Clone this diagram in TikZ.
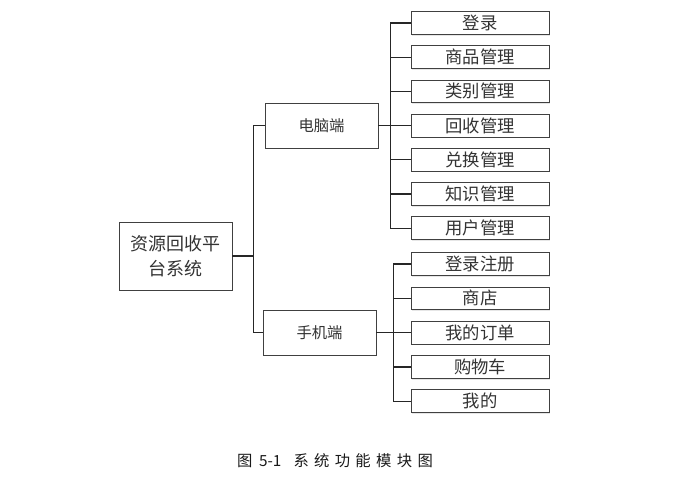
\documentclass[tikz,border=0pt]{standalone}
\usepackage{fontspec}
\setmainfont{Noto Sans CJK SC}
\usetikzlibrary{shadows}

\tikzset{
  box/.style={draw=black!75, fill=white, line width=0.65pt, inner sep=0pt,
    text=black!80, drop shadow={opacity=0.2, shadow xshift=1pt, shadow yshift=-1pt}},
  rootbox/.style={box, minimum width=84.75pt, minimum height=51pt, align=center,
    font=\fontsize{13.5}{19}\selectfont},
  midbox/.style={box, minimum width=84.75pt, minimum height=33.75pt,
    font=\fontsize{11.5}{13}\selectfont},
  leafbox/.style={box, minimum width=103.5pt, minimum height=17pt,
    font=\fontsize{13}{14}\selectfont},
  link/.style={line width=0.9pt, black!85},
}

\begin{document}
\begin{tikzpicture}[x=0.75pt,y=-0.75pt]
\useasboundingbox (0,0) rectangle (698,487);
%\draw[step=10,gray,very thin] (0,0) grid (698,487);

% root and the two clients
\node[rootbox] (root) at (175.5,256) {资源回收平\\台系统};
\node[midbox] (pc) at (321.5,125.5) {电脑端};
\node[midbox] (mob) at (319.5,332.5) {手机端};

% pc items
\foreach \name/\txt [count=\i] in {p1/登录,p2/商品管理,p3/类别管理,p4/回收管理,p5/兑换管理,p6/知识管理,p7/用户管理}
  \node[leafbox] (\name) at (480,{23+34.2*(\i-1)}) {\txt};

% mobile items
\foreach \name/\txt [count=\i] in {m1/登录注册,m2/商店,m3/我的订单,m4/购物车,m5/我的}
  \node[leafbox] (\name) at (480,{264+34.3*(\i-1)}) {\txt};

% root bus
\draw[link] (root.east) -- ++(21,0) coordinate (rb);
\draw[link] (rb |- pc.west) -- (rb |- mob.west);
\draw[link] (rb |- pc.west) -- (pc.west);
\draw[link] (rb |- mob.west) -- (mob.west);

% pc bus
\draw[link] (pc.east) -- ++(12,0) coordinate (pb);
\draw[link] (pb |- p1.west) -- (pb |- p7.west);
\foreach \n in {p1,p2,p3,p4,p5,p6,p7}
  \draw[link] (pb |- \n.west) -- (\n.west);

% mobile bus
\draw[link] (mob.east) -- ++(17,0) coordinate (mb);
\draw[link] (mb |- m1.west) -- (mb |- m5.west);
\foreach \n in {m1,m2,m3,m4,m5}
  \draw[link] (mb |- \n.west) -- (\n.west);

% caption
\node[font=\fontsize{11.5}{13}\selectfont, text=black!90] (cap) at (335,461)
  {图\hspace{5pt}5-1\hspace{9pt}系\hspace{4pt}统\hspace{4pt}功\hspace{4pt}能\hspace{4pt}模\hspace{4pt}块\hspace{4pt}图};
\end{tikzpicture}
\end{document}
